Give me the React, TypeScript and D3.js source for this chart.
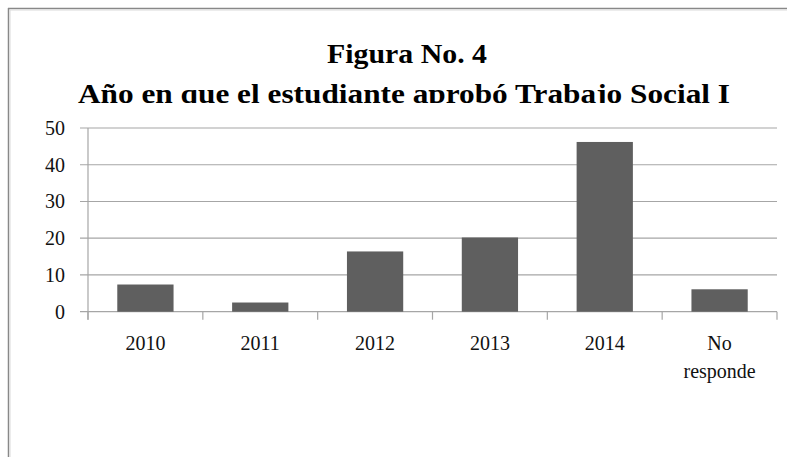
import React from "react";
import * as d3 from "d3";

const categories = ["2010", "2011", "2012", "2013", "2014", "No responde"];
const values = [7.4, 2.5, 16.4, 20.2, 46.2, 6.1];
const yTicks = [0, 10, 20, 30, 40, 50];
const titleLines = ["Figura No. 4", "Año en que el estudiante aprobó Trabajo Social I"];

const W = 787;
const H = 457;
const plot = { left: 88, right: 777, top: 128, bottom: 311.7 };

export default function App() {
  const x = d3
    .scaleBand<string>()
    .domain(categories)
    .range([plot.left, plot.right])
    .paddingInner(0.51)
    .paddingOuter(0.255);
  const xOuter = d3.scaleBand<string>().domain(categories).range([plot.left, plot.right]);
  const y = d3.scaleLinear().domain([0, 50]).range([plot.bottom, plot.top]);
  const serif = "'Liberation Serif', 'DejaVu Serif', serif";
  const grid = "#a6a6a6";
  const boundaries = categories.map((c) => xOuter(c) as number).concat([plot.right]);

  return (
    <svg
      width={W}
      height={H}
      style={{ position: "absolute", left: 0, top: 0, background: "#fff" }}
      fontFamily={serif}
    >
      <defs>
        <clipPath id="titleClip">
          <rect x={0} y={0} width={W} height={103} />
        </clipPath>
      </defs>
      {/* frame */}
      <line x1={8.5} y1={8} x2={8.5} y2={H} stroke="#888" strokeWidth={1.5} />
      <line x1={8} y1={8.5} x2={W} y2={8.5} stroke="#888" strokeWidth={1.5} />
      <line x1={10} y1={10.2} x2={W} y2={10.2} stroke="#ddd" strokeWidth={0.8} />
      <line x1={10.2} y1={10} x2={10.2} y2={H} stroke="#ddd" strokeWidth={0.8} />

      {/* title */}
      <g clipPath="url(#titleClip)" fontWeight="bold" fill="#000" textAnchor="middle">
        <text x={407} y={63} fontSize={28} textLength={160} lengthAdjust="spacingAndGlyphs">
          {titleLines[0]}
        </text>
        <text x={404} y={103} fontSize={28} textLength={652} lengthAdjust="spacingAndGlyphs">
          {titleLines[1]}
        </text>
      </g>

      {/* gridlines and y labels */}
      {yTicks.map((t) => (
        <g key={t}>
          <line x1={80} x2={plot.right} y1={y(t)} y2={y(t)} stroke={grid} strokeWidth={1.2} />
          <text x={65} y={y(t)} dy="0.35em" textAnchor="end" fontSize={20} fill="#111">
            {t}
          </text>
        </g>
      ))}
      {/* y axis */}
      <line x1={plot.left} x2={plot.left} y1={plot.top} y2={plot.bottom + 8} stroke={grid} strokeWidth={1.2} />
      {/* category ticks */}
      {boundaries.map((b, i) => (
        <line key={i} x1={b} x2={b} y1={plot.bottom} y2={plot.bottom + 8} stroke={grid} strokeWidth={1.2} />
      ))}

      {/* bars */}
      {categories.map((c, i) => (
        <rect
          key={c}
          x={x(c)}
          y={y(values[i])}
          width={x.bandwidth()}
          height={plot.bottom - y(values[i])}
          fill="#5f5f5f"
        />
      ))}

      {/* x labels */}
      {categories.map((c) => {
        const cx = (xOuter(c) as number) + xOuter.bandwidth() / 2;
        const words = c === "No responde" ? ["No", "responde"] : [c];
        return (
          <text key={c} x={cx} y={350} textAnchor="middle" fontSize={20} fill="#111">
            {words.map((w, i) => (
              <tspan key={i} x={cx} dy={i === 0 ? 0 : 28}>
                {w}
              </tspan>
            ))}
          </text>
        );
      })}
    </svg>
  );
}
